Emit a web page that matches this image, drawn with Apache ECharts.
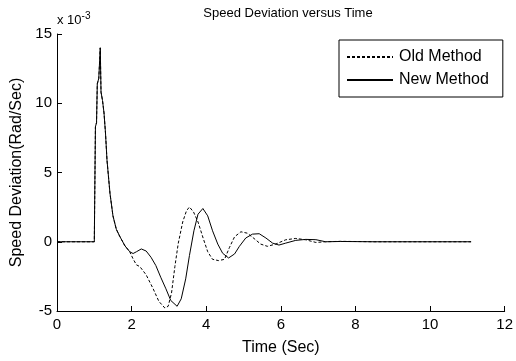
<!DOCTYPE html>
<html><head><meta charset="utf-8">
<script src="https://cdn.jsdelivr.net/npm/echarts@6/dist/echarts.min.js"></script>
<style>html,body{margin:0;padding:0;background:#fff}#c{width:516px;height:361px}</style>
</head><body><div id="c"></div>
<script>
// values in units of 1e-3 rad/s
const commonT = [0, 1.0, 1.02, 1.03, 1.06, 1.08, 1.12, 1.16, 1.18, 1.22, 1.26, 1.30, 1.34, 1.42, 1.50, 1.59, 1.68, 1.82, 1.95];
const commonV = [0, 0, 0, 8.3, 8.6, 11.4, 11.8, 14.0, 10.8, 10.2, 9.3, 7.85, 5.9, 3.5, 1.87, 0.9, 0.4, -0.29, -0.72];

const newT = [2.04, 2.13, 2.26, 2.39, 2.52, 2.65, 2.78, 2.92, 3.05, 3.22, 3.33, 3.45, 3.55, 3.67, 3.78, 3.91, 4.04, 4.17, 4.31, 4.44, 4.60, 4.76, 4.89, 5.06, 5.24, 5.42, 5.60, 5.78, 5.95, 6.13, 6.40, 6.67, 6.94, 7.20, 7.60, 8.50, 11.1];
const newV = [-0.85, -0.72, -0.52, -0.67, -1.12, -1.72, -2.56, -3.4, -4.24, -4.66, -4.12, -2.68, -1.0, 0.79, 1.99, 2.40, 1.87, 0.79, -0.17, -0.83, -1.17, -0.88, -0.33, 0.27, 0.55, 0.58, 0.27, -0.1, -0.24, -0.1, 0.1, 0.17, 0.15, 0.0, 0.02, 0.0, 0.0];

const oldT = [2.04, 2.13, 2.22, 2.39, 2.57, 2.73, 2.89, 2.98, 3.07, 3.16, 3.25, 3.37, 3.47, 3.55, 3.66, 3.78, 3.92, 4.04, 4.17, 4.33, 4.49, 4.62, 4.76, 4.93, 5.10, 5.28, 5.46, 5.64, 5.86, 6.13, 6.40, 6.67, 6.94, 7.20, 7.60, 8.50, 11.1];
const oldV = [-1.24, -1.67, -1.79, -2.39, -3.35, -4.3, -4.78, -4.66, -3.7, -1.79, -0.12, 1.43, 2.23, 2.51, 2.15, 1.43, 0.24, -0.72, -1.27, -1.36, -1.27, -0.43, 0.36, 0.72, 0.62, 0.24, -0.17, -0.33, -0.17, 0.14, 0.24, 0.14, -0.05, 0.0, 0.03, 0.0, 0.0];

const xTicks = [0, 2, 4, 6, 8, 10, 12];
const yTicks = [-5, 0, 5, 10, 15];
const seriesNames = ['Old Method', 'New Method'];

function pairs(t, v) { return t.map((x, i) => [x, v[i]]); }
const oldData = pairs(commonT, commonV).concat(pairs(oldT, oldV));
const newData = pairs(commonT, commonV).concat(pairs(newT, newV));

const font = 'Liberation Sans, Arial, sans-serif';
const chart = echarts.init(document.getElementById('c'), null, {renderer: 'canvas'});
chart.setOption({
  backgroundColor: '#fff',
  animation: false,
  title: {
    text: 'Speed Deviation versus Time',
    left: 283, top: 2, textAlign: 'center',
    textStyle: {fontFamily: font, fontSize: 13, fontWeight: 'normal', color: '#000'}
  },
  grid: {left: 57, right: 10, top: 34, bottom: 49, containLabel: false},
  xAxis: {
    type: 'value', min: xTicks[0], max: xTicks[xTicks.length - 1], interval: 2,
    name: 'Time (Sec)', nameLocation: 'middle', nameGap: 29,
    nameTextStyle: {fontFamily: font, fontSize: 16, color: '#000'},
    axisLine: {show: true, onZero: false, lineStyle: {color: '#000', width: 1}},
    axisTick: {show: true, inside: true, length: 5, lineStyle: {color: '#000'}},
    axisLabel: {fontFamily: font, fontSize: 15, color: '#000', margin: 6},
    splitLine: {show: false}
  },
  yAxis: {
    type: 'value', min: yTicks[0], max: yTicks[yTicks.length - 1], interval: 5,
    name: 'Speed Deviation(Rad/Sec)', nameLocation: 'middle', nameGap: 32,
    nameTextStyle: {fontFamily: font, fontSize: 16, color: '#000'},
    axisLine: {show: true, onZero: false, lineStyle: {color: '#000', width: 1}},
    axisTick: {show: true, inside: true, length: 5, lineStyle: {color: '#000'}},
    axisLabel: {fontFamily: font, fontSize: 15, color: '#000', margin: 5},
    splitLine: {show: false}
  },
  legend: {
    orient: 'vertical', left: 339, top: 40,
    data: seriesNames,
    itemWidth: 46, itemHeight: 16, itemGap: 7,
    padding: [9, 14, 9, 7],
    borderColor: '#000', borderWidth: 1, borderRadius: 0,
    itemStyle: {opacity: 0},
    textStyle: {fontFamily: font, fontSize: 16, color: '#000', padding: [0, 0, 0, 1]}
  },
  graphic: [{
    type: 'text', left: 57, top: 11,
    style: {
      text: 'x 10{s|-3}',
      font: '13px ' + font, fill: '#000',
      rich: {s: {fontSize: 10, fontFamily: font, verticalAlign: 'top', padding: [0, 0, 9, 0]}}
    }
  }],
  series: [
    {name: seriesNames[0], type: 'line', data: oldData, symbol: 'none', smooth: false,
     lineStyle: {color: '#000', width: 1, type: [3, 2]}, itemStyle: {color: '#000'}},
    {name: seriesNames[1], type: 'line', data: newData, symbol: 'none', smooth: false,
     lineStyle: {color: '#000', width: 1}, itemStyle: {color: '#000'}}
  ]
});
</script></body></html>
